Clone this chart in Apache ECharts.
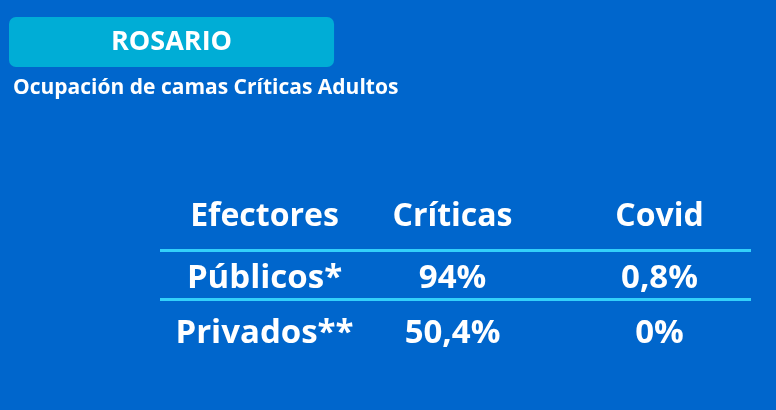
<!DOCTYPE html>
<html>
<head>
<meta charset="utf-8">
<script src="https://cdn.jsdelivr.net/npm/echarts@6/dist/echarts.min.js"></script>
<style>
html,body{margin:0;padding:0;background:#0066CC;}
#main{width:776px;height:410px;}
</style>
</head>
<body>
<div id="main"></div>
<script>
// ---- data ----
var city = 'ROSARIO';
var subtitle = 'Ocupación de camas Críticas Adultos';
var columns = ['Efectores', 'Críticas', 'Covid'];
var rows = ['Públicos*', 'Privados**'];
var criticas = [94, 50.4];
var covid = [0.8, 0];

// ---- style ----
var FONT = '"Open Sans", sans-serif';
var colOffsetX = [6, -3, 7];
var rowOffsetY = [-9, 4, 10];

function pct(v) { return String(v).replace('.', ',') + '%'; }

var cells = [];
columns.forEach(function (c, ci) {
  cells.push({ value: [ci, 0], text: c, header: true });
});
rows.forEach(function (r, ri) {
  cells.push({ value: [0, ri + 1], text: r });
  cells.push({ value: [1, ri + 1], text: pct(criticas[ri]) });
  cells.push({ value: [2, ri + 1], text: pct(covid[ri]) });
});

var data = cells.map(function (c) {
  return {
    value: c.value,
    label: {
      formatter: c.text,
      fontSize: c.header ? 32 : 33,
      offset: [colOffsetX[c.value[0]], rowOffsetY[c.value[1]]]
    }
  };
});

var separators = rows.map(function (_, i) { return { yAxis: i + 0.5 }; });

var chart = echarts.init(document.getElementById('main'));
chart.setOption({
  backgroundColor: '#0066CC',
  animation: false,
  title: [{
    text: city,
    left: 9, top: 17,
    backgroundColor: '#00ADD6',
    borderRadius: 7,
    padding: [11, 102, 11, 102],
    textStyle: { color: '#FFFFFF', fontSize: 27, fontWeight: 'bold', fontFamily: FONT, lineHeight: 28 }
  }, {
    text: subtitle,
    left: 13, top: 76,
    padding: 0,
    textStyle: { color: '#FFFFFF', fontSize: 21, fontWeight: 'bold', fontFamily: FONT, lineHeight: 24 }
  }],
  grid: { left: 160, right: 25, top: 201, height: 147 },
  xAxis: { type: 'value', min: -0.5, max: 2.5, show: false },
  yAxis: { type: 'value', min: -0.5, max: 2.5, inverse: true, show: false },
  series: [{
    type: 'scatter',
    symbolSize: 0,
    silent: true,
    itemStyle: { opacity: 1 },
    label: {
      show: true,
      position: 'inside',
      color: '#FFFFFF',
      opacity: 1,
      fontWeight: 'bold',
      fontFamily: FONT
    },
    data: data,
    markLine: {
      silent: true,
      symbol: 'none',
      label: { show: false },
      lineStyle: { color: '#33D0FA', width: 3, type: 'solid', opacity: 1 },
      data: separators
    }
  }]
});
</script>
</body>
</html>
